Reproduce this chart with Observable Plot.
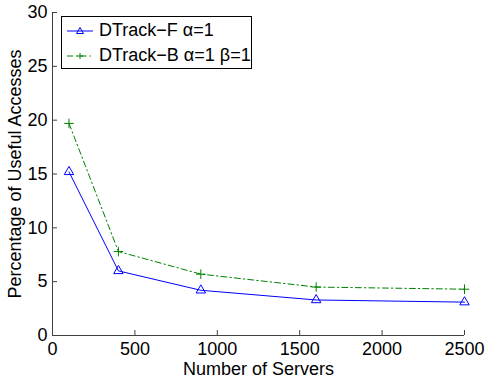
<!DOCTYPE html>
<html>
<head>
<meta charset="utf-8">
<script src="https://cdn.jsdelivr.net/npm/d3@7"></script>
<script src="https://cdn.jsdelivr.net/npm/@observablehq/plot@0.6"></script>
<style>
  body { margin: 0; background: #fff; }
  #wrap { position: relative; width: 487px; height: 377px; font-family: "Liberation Sans", Arial, sans-serif; }
  #legend { position: absolute; left: 61px; top: 16px; width: 189px; height: 51px; border: 1px solid #000; background: #fff; font-size: 18px; }
  .row { position: absolute; left: 5px; display: flex; align-items: center; white-space: nowrap; }
  .row svg { margin-right: 5px; }
</style>
</head>
<body>
<div id="wrap"></div>
<script>
const servers = [100, 400, 900, 1600, 2500];
const dtrackF = [15.2, 6.0, 4.2, 3.3, 3.1];
const dtrackB = [19.7, 7.8, 5.7, 4.5, 4.3];
const seriesNames = ["DTrack\u2212F \u03b1=1", "DTrack\u2212B \u03b1=1 \u03b2=1"];
const xTicks = [0, 500, 1000, 1500, 2000, 2500];
const yTicks = [0, 5, 10, 15, 20, 25, 30];

const dataF = servers.map((s, i) => ({x: s, y: dtrackF[i]}));
const dataB = servers.map((s, i) => ({x: s, y: dtrackB[i]}));

const blue = "#0000ff", green = "#008000", dash = "6,3,1.5,3";
const axisColor = "#404040";

const chart = Plot.plot({
  width: 487,
  height: 377,
  marginLeft: 52,
  marginRight: 23,
  marginTop: 12,
  marginBottom: 42,
  style: {fontSize: "18px", fontFamily: "'Liberation Sans', Arial, sans-serif", color: "#000", background: "#fff"},
  x: {domain: [0, 2500]},
  y: {domain: [0, 30]},
  marks: [
    Plot.axisX({ticks: xTicks, tickFormat: d => String(d), tickSize: 0, tickPadding: 7, label: "Number of Servers", labelAnchor: "center", labelOffset: 39, labelArrow: "none"}),
    Plot.axisY({ticks: yTicks, tickFormat: d => String(d), tickSize: 0, tickPadding: 5, label: "Percentage of Useful Accesses", labelAnchor: "center", labelOffset: 44, labelArrow: "none"}),
    Plot.tickX(xTicks, {x: d => d, insetTop: 318, stroke: axisColor}),
    Plot.tickY(yTicks, {y: d => d, insetRight: 407, stroke: axisColor}),
    Plot.ruleX([0], {stroke: axisColor}),
    Plot.ruleY([0], {stroke: axisColor}),
    Plot.line(dataB, {x: "x", y: "y", stroke: green, strokeWidth: 1, strokeDasharray: dash}),
    Plot.dot(dataB, {x: "x", y: "y", symbol: "plus", r: 3.2, stroke: green, strokeWidth: 1}),
    Plot.line(dataF, {x: "x", y: "y", stroke: blue, strokeWidth: 1}),
    Plot.dot(dataF, {x: "x", y: "y", symbol: "triangle", r: 3.5, stroke: blue, fill: "none", strokeWidth: 1})
  ]
});

const wrap = document.getElementById("wrap");
wrap.appendChild(chart);

const legend = document.createElement("div");
legend.id = "legend";
const rows = [
  {name: seriesNames[0], color: blue, dash: null, sym: "tri", top: 3},
  {name: seriesNames[1], color: green, dash: dash, sym: "plus", top: 28}
];
rows.forEach(r => {
  const row = document.createElement("div");
  row.className = "row";
  row.style.top = r.top + "px";
  const marker = r.sym === "tri"
    ? `<path d="M13,-3.5 L16.5,2.5 L9.5,2.5 Z" fill="none" stroke="${r.color}"/>`
    : `<path d="M13,-3 V3 M10,0 H16" stroke="${r.color}"/>`;
  row.innerHTML = `<svg width="27" height="20" viewBox="0 -10 27 20"><line x1="0" x2="26" y1="0" y2="0" stroke="${r.color}" ${r.dash ? `stroke-dasharray="${r.dash}"` : ""}/>${marker}</svg><span>${r.name}</span>`;
  legend.appendChild(row);
});
wrap.appendChild(legend);
</script>
</body>
</html>
